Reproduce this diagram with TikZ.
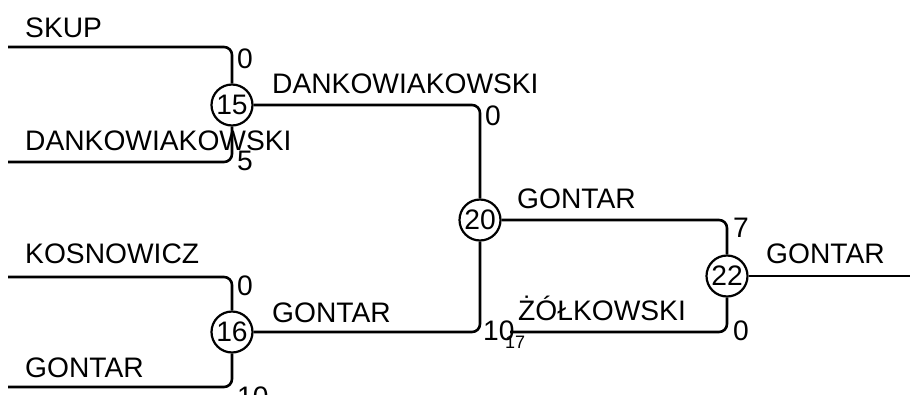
\documentclass[tikz,border=0pt]{standalone}
\usepackage{fontspec}
\setmainfont{Liberation Sans}
\usepackage{tikz}
\usetikzlibrary{positioning}

\begin{document}
\begin{tikzpicture}[
    x=1pt, y=-1pt,
    font=\fontsize{28.2}{30}\selectfont,
    match/.style={
        circle,
        draw,
        fill=white,
        line width=2.2pt,
        minimum size=41pt,
        inner sep=0pt
    },
    wire/.style={line width=2.6pt, rounded corners=8pt},
    player/.style={anchor=base west, inner sep=0pt},
    score/.style={anchor=base west, inner sep=0pt},
    seed/.style={anchor=base west, inner sep=0pt, font=\fontsize{18}{20}\selectfont}
]
\useasboundingbox (0,0) rectangle (910,394);

% Free ends
\coordinate (skup) at (8,47);
\coordinate (dank) at (8,162);
\coordinate (kosn) at (8,277);
\coordinate (gont) at (8,387);
\coordinate (zolk) at (510,332);
\coordinate (final) at (910,276);

% Match nodes
\node[match] (m15) at (232,105) {15};
\node[match] (m16) at (232,332) {16};
\node[match] (m20) at (480,220) {20};
\node[match] (m22) at (727,276) {22};

% Wires
\draw[wire] (skup) -| (m15);
\draw[wire] (dank) -| (m15);
\draw[wire] (kosn) -| (m16);
\draw[wire] (gont) -| (m16);
\draw[wire] (m15) -| (m20);
\draw[wire] (m16) -| (m20);
\draw[wire] (m20) -| (m22);
\draw[wire] (zolk) -| (m22);
\draw[wire] (m22) -- (final);

% Player names
\node[player] (n1) at (25,37) {SKUP};
\node[player] (n2) at (25,150) {DANKOWIAKOWSKI};
\node[player] (n3) at (25,263) {KOSNOWICZ};
\node[player] (n4) at (25,377) {GONTAR};
\node[player] (n5) at (272,93) {DANKOWIAKOWSKI};
\node[player] (n6) at (272,322) {GONTAR};
\node[player] (n7) at (517,208) {GONTAR};
\node[player] (n8) at (518,320) {ŻÓŁKOWSKI};
\node[player] (n9) at (766,263) {GONTAR};

% Scores
\node[score] (s1) at (237,68) {0};
\node[score] (s2) at (237,170) {5};
\node[score] (s3) at (237,295) {0};
\node[score] (s4) at (237,406) {10};
\node[score] (s5) at (485,125) {0};
\node[score] (s6) at (483,340) {10};
\node[seed] (s7) at (505,348) {17};
\node[score] (s8) at (733,237) {7};
\node[score] (s9) at (733,340) {0};

\end{tikzpicture}
\end{document}
